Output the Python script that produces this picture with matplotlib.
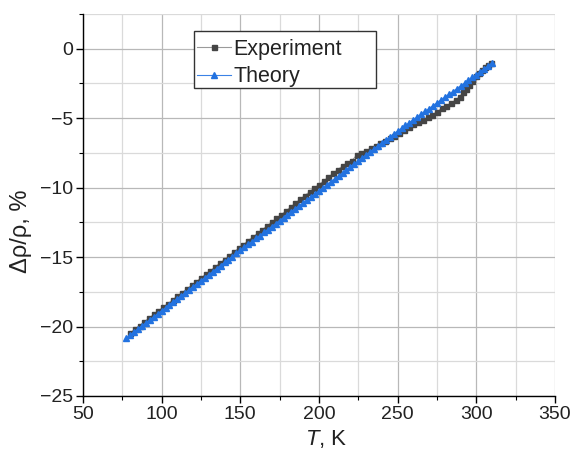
"""Delta rho / rho vs temperature: experiment and theory"""

import matplotlib

matplotlib.use("Agg")
import matplotlib.pyplot as plt
from matplotlib.patches import Rectangle
from matplotlib.ticker import MultipleLocator

plt.rcParams["font.family"] = ["Liberation Sans", "DejaVu Sans"]
plt.rcParams["mathtext.fontset"] = "custom"
plt.rcParams["mathtext.rm"] = "Liberation Sans"
plt.rcParams["mathtext.it"] = "Liberation Sans:italic"

TEXT = "#222222"

# experiment
t_exp = [
    80, 83, 86, 89, 92, 95, 98, 101, 104, 107, 110, 113, 116, 119, 122, 125,
    128, 131, 134, 137, 140, 143, 146, 149, 152, 155, 158, 161, 164, 167, 170,
    173, 176, 179, 182, 185, 188, 191, 194, 197, 200, 203, 206, 209, 212, 215,
    218, 221, 224, 227, 230, 233, 236, 239, 242, 245, 248, 251, 254, 257, 260,
    263, 266, 269, 272, 275, 278, 281, 284, 287, 289.5, 291.5, 293.5, 295.5,
    297.5, 299.5, 301.5, 303.5, 305.5, 307.5, 309.5,
]
drho_exp = [
    -20.45, -20.20, -19.93, -19.66, -19.40, -19.13, -18.88, -18.60, -18.36,
    -18.08, -17.80, -17.56, -17.30, -17.03, -16.78, -16.50, -16.24, -15.98,
    -15.72, -15.44, -15.18, -14.90, -14.62, -14.38, -14.10, -13.82, -13.55,
    -13.30, -13.02, -12.76, -12.48, -12.22, -11.95, -11.68, -11.40, -11.12,
    -10.85, -10.58, -10.30, -10.04, -9.78, -9.52, -9.25, -8.98, -8.70, -8.45,
    -8.22, -8.06, -7.65, -7.48, -7.33, -7.18, -7.03, -6.82, -6.62, -6.42,
    -6.25, -6.05, -5.85, -5.65, -5.45, -5.25, -5.10, -4.95, -4.75, -4.55,
    -4.30, -4.10, -3.92, -3.68, -3.45, -3.15, -2.90, -2.62, -2.30, -2.00,
    -1.72, -1.50, -1.30, -1.15, -1.00,
]

# theory
t_th = [
    77.5, 80, 82.5, 85, 87.5, 90, 92.5, 95, 97.5, 100, 102.5, 105, 107.5, 110,
    112.5, 115, 117.5, 120, 122.5, 125, 127.5, 130, 132.5, 135, 137.5, 140,
    142.5, 145, 147.5, 150, 152.5, 155, 157.5, 160, 162.5, 165, 167.5, 170,
    172.5, 175, 177.5, 180, 182.5, 185, 187.5, 190, 192.5, 195, 197.5, 200,
    202.5, 205, 207.5, 210, 212.5, 215, 217.5, 220, 222.5, 225, 227.5, 230,
    232.5, 235, 237.5, 240, 242.5, 245, 247.5, 250, 252.5, 255, 257.5, 260,
    262.5, 265, 267.5, 270, 272.5, 275, 277.5, 280, 282.5, 285, 287.5, 290,
    292.5, 295, 297.5, 300, 302.5, 305, 307.5, 310,
]
drho_th = [
    -20.83, -20.61, -20.39, -20.18, -19.96, -19.74, -19.52, -19.31, -19.09,
    -18.87, -18.65, -18.44, -18.22, -18.00, -17.79, -17.57, -17.35, -17.13,
    -16.92, -16.70, -16.48, -16.26, -16.05, -15.83, -15.61, -15.39, -15.18,
    -14.96, -14.74, -14.52, -14.31, -14.09, -13.88, -13.66, -13.45, -13.23,
    -13.02, -12.80, -12.59, -12.37, -12.16, -11.94, -11.73, -11.51, -11.30,
    -11.08, -10.87, -10.65, -10.44, -10.22, -10.01, -9.79, -9.58, -9.36,
    -9.15, -8.93, -8.72, -8.50, -8.29, -8.08, -7.86, -7.65, -7.43, -7.22,
    -7.00, -6.79, -6.58, -6.36, -6.15, -5.93, -5.73, -5.52, -5.32, -5.12,
    -4.92, -4.71, -4.51, -4.31, -4.10, -3.90, -3.70, -3.49, -3.29, -3.09,
    -2.89, -2.68, -2.48, -2.28, -2.07, -1.87, -1.67, -1.46, -1.26, -1.06,
]

fig = plt.figure(figsize=(5.76, 4.5), dpi=100)
ax = fig.add_axes([0.144, 0.12, 0.8195, 0.849])

ax.plot(
    t_exp, drho_exp, color="#9a9a9a", lw=0.8, marker="s", ms=3.6,
    mfc="#454545", mec="#454545", label="Experiment",
)
ax.plot(
    t_th, drho_th, color="#3b82e6", lw=0.8, marker="^", ms=4.4,
    mfc="#2272e0", mec="#2272e0", label="Theory",
)

ax.set_xlim(50, 350)
ax.set_ylim(-25, 2.5)
ax.xaxis.set_major_locator(MultipleLocator(50))
ax.xaxis.set_minor_locator(MultipleLocator(25))
ax.yaxis.set_major_locator(MultipleLocator(5))
ax.yaxis.set_minor_locator(MultipleLocator(2.5))

# grid on major and minor positions
ax.grid(which="major", color="#b8b8b8", lw=0.9)
ax.grid(which="minor", color="#dadada", lw=0.9)
ax.set_axisbelow(True)

for side in ["top", "right"]:
    ax.spines[side].set_visible(False)
for side in ["left", "bottom"]:
    ax.spines[side].set_color("black")
    ax.spines[side].set_linewidth(1.0)

ax.tick_params(which="major", direction="out", length=5, width=1.0,
               labelsize=14, labelcolor=TEXT, pad=2)
ax.tick_params(which="minor", direction="out", length=3, width=0.8)

ax.set_xlabel("$T$, K", fontsize=16, color=TEXT)
ax.set_ylabel("Δρ/ρ, %", fontsize=17, color=TEXT)
ax.xaxis.set_label_coords(0.515, -0.085)
ax.yaxis.set_label_coords(-0.108, 0.43)

# legend with its own box (wide, square corners)
ax.add_patch(Rectangle((0.235, 0.806), 0.386, 0.149, transform=ax.transAxes,
                       facecolor="white", edgecolor="#333333", lw=1.0,
                       zorder=5))
leg = ax.legend(
    loc="upper left", bbox_to_anchor=(0.237, 0.94), borderaxespad=0,
    fontsize=15.5, frameon=False, handlelength=1.6, handletextpad=0.1,
    borderpad=0.1, labelspacing=0.3,
)
leg.set_zorder(6)
for txt in leg.get_texts():
    txt.set_color(TEXT)

fig.savefig("out.png", dpi=100)
